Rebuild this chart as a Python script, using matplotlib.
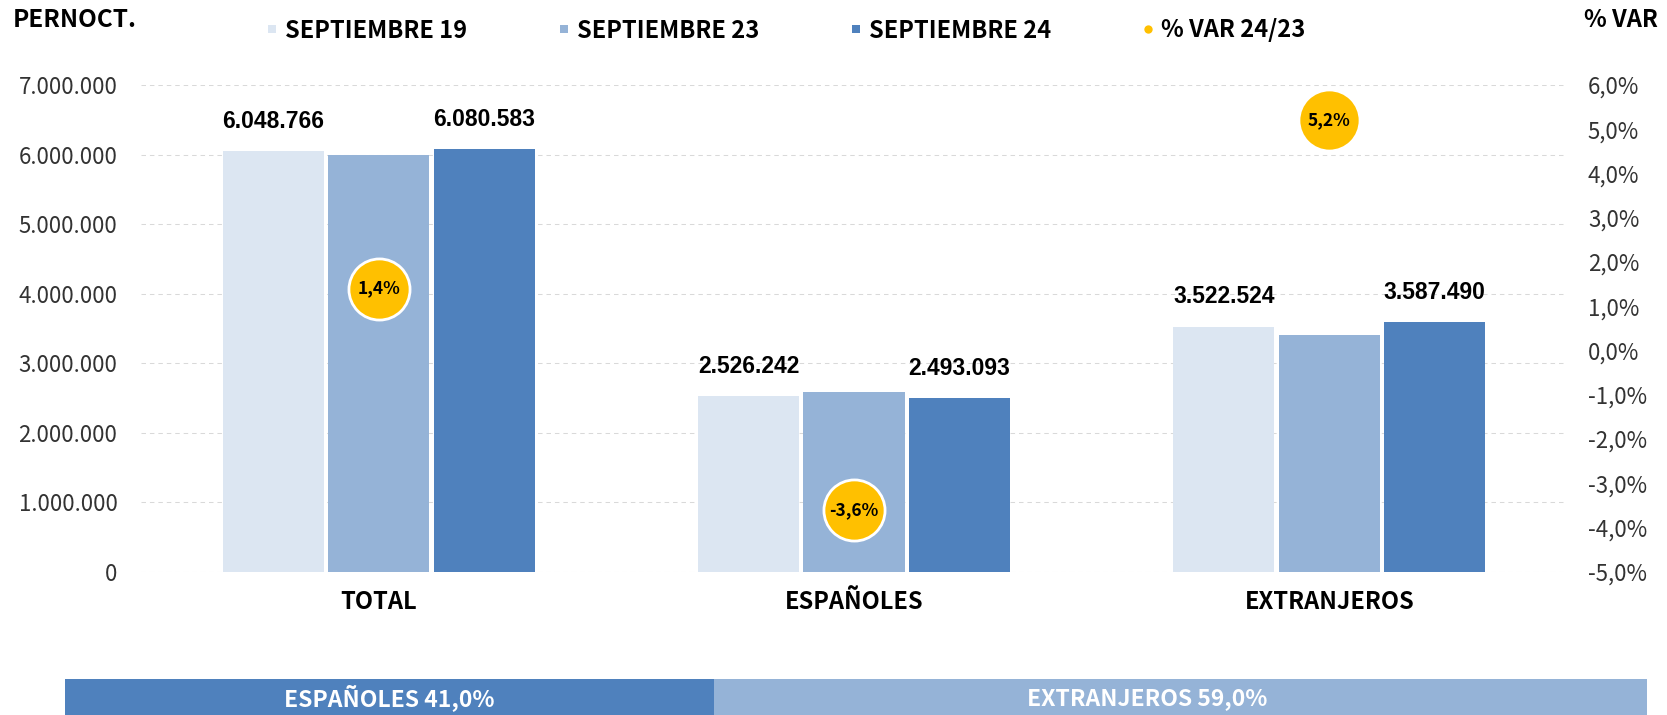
import matplotlib
matplotlib.use("Agg")
import numpy as np
import matplotlib.pyplot as plt
from matplotlib import font_manager as fm
from matplotlib.lines import Line2D

# ---------------- data ----------------
categories = ["TOTAL", "ESPAÑOLES", "EXTRANJEROS"]
series_names = ["SEPTIEMBRE 19", "SEPTIEMBRE 23", "SEPTIEMBRE 24"]
sep19 = [6048766, 2526242, 3522524]
sep23 = [5996000, 2586000, 3410000]
sep24 = [6080583, 2493093, 3587490]
var_name = "% VAR 24/23"
var_24_23 = [1.4, -3.6, 5.2]
share_labels = ["ESPAÑOLES", "EXTRANJEROS"]
share_values = [41.0, 59.0]
left_ticks = [0, 1000000, 2000000, 3000000, 4000000, 5000000, 6000000, 7000000]
right_ticks = [-5, -4, -3, -2, -1, 0, 1, 2, 3, 4, 5, 6]

# ---------------- style ----------------
def has_font(name):
    try:
        fm.findfont(fm.FontProperties(family=name), fallback_to_default=False)
        return True
    except Exception:
        return False

CJK = "Noto Sans CJK JP" if has_font("Noto Sans CJK JP") else "Liberation Sans"
NARROW = CJK
REG = CJK
BOLDNUM = "Liberation Sans"

colors = ["#DCE6F2", "#95B3D7", "#4F81BD"]
yellow = "#FFC000"
tick_color = "#333333"

W, H = 1667, 715
fig = plt.figure(figsize=(W / 100, H / 100), dpi=100)

ax = fig.add_axes([141 / W, 143.3 / H, 1426 / W, 486.7 / H])
x = np.arange(len(categories))
step, width = 0.222, 0.213
series = [sep19, sep23, sep24]
for i, (vals, c) in enumerate(zip(series, colors)):
    ax.bar(x + (i - 1) * step, vals, width, color=c, zorder=2)

def fmt_thousands(v):
    return f"{int(round(v)):,}".replace(",", ".")

for i in (0, 2):
    for xi, v in zip(x, series[i]):
        ax.annotate(fmt_thousands(v), (xi + (i - 1) * step, v), xytext=(0, 21.5),
                    textcoords="offset points", ha="center", va="center",
                    fontsize=16.5, fontweight="bold", family=BOLDNUM, color="black")

ax.set_xlim(-0.5, 2.5)
ax.set_ylim(0, 7000000)
ax.set_yticks(left_ticks)
ax.set_yticklabels([fmt_thousands(t) for t in left_ticks], family=REG, fontsize=16, color=tick_color)
ax.set_xticks(x)
ax.set_xticklabels(categories, family=NARROW, fontsize=17, fontweight="bold", color="black")
ax.tick_params(axis="y", length=0, pad=17)
ax.tick_params(axis="x", length=0, pad=13.5)
ax.yaxis.grid(True, color="#D9D9D9", linestyle=(0, (4.3, 3.8)), linewidth=0.75)
ax.set_axisbelow(True)
for s in ax.spines.values():
    s.set_visible(False)

ax2 = ax.twinx()
ax2.set_ylim(-5, 6)
ax2.set_yticks(right_ticks)
ax2.set_yticklabels([f"{t:.1f}%".replace(".", ",") for t in right_ticks], family=REG, fontsize=16, color=tick_color)
ax2.tick_params(axis="y", length=0, pad=15)
for s in ax2.spines.values():
    s.set_visible(False)
ax2.scatter(x, var_24_23, s=44 ** 2, color=yellow, edgecolor="white", linewidth=2, zorder=5)
for xi, v in zip(x, var_24_23):
    ax2.text(xi, v, f"{v:.1f}%".replace(".", ","), ha="center", va="center",
             fontsize=12.5, fontweight="bold", family=NARROW, color="black", zorder=6)

# legend
handles = [Line2D([], [], marker="s", ls="none", markersize=6, color=c, markeredgewidth=0) for c in colors]
handles.append(Line2D([], [], marker="o", ls="none", markersize=6, color=yellow, markeredgewidth=0))
fig.legend(handles, series_names + [var_name], loc="center", bbox_to_anchor=(786 / W, 1 - 30.5 / H),
           ncol=4, frameon=False, handlelength=0.45, handletextpad=0.3, columnspacing=3.9,
           prop=fm.FontProperties(family=NARROW, weight="bold", size=17))

fig.text(13 / W, 1 - 20 / H, "PERNOCT.", ha="left", va="center", family=NARROW,
         fontweight="bold", fontsize=17.5, color="black")
fig.text(1658 / W, 1 - 20 / H, "% VAR", ha="right", va="center", family=NARROW,
         fontweight="bold", fontsize=17, color="black")

# bottom share bar
axb = fig.add_axes([65 / W, 0, 1582 / W, 36 / H])
share_colors = ["#4F81BD", "#95B3D7"]
label_shift = [0.0, -2.1]
left = 0
for lab, v, c, sh in zip(share_labels, share_values, share_colors, label_shift):
    axb.barh(0, v, left=left, height=1, color=c)
    axb.text(left + v / 2 + sh, -0.03, f"{lab} {v:.1f}%".replace(".", ","), ha="center", va="center",
             color="white", fontweight="bold", family=NARROW, fontsize=16.5)
    left += v
axb.set_xlim(0, 100)
axb.set_ylim(-0.5, 0.5)
axb.axis("off")

fig.savefig("out.png", dpi=100)
